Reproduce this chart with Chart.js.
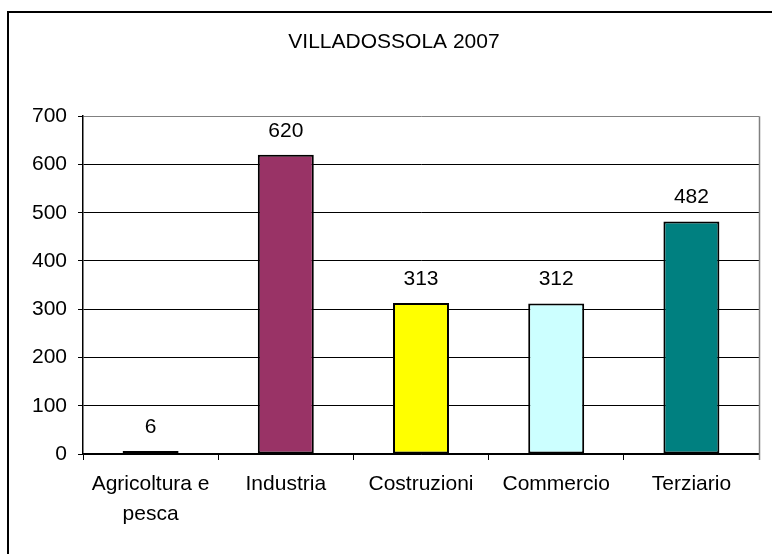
<!DOCTYPE html>
<html>
<head>
<meta charset="utf-8">
<script src="https://cdn.jsdelivr.net/npm/chart.js@4/dist/chart.umd.min.js"></script>
<style>
  html, body { margin: 0; padding: 0; background: #fff; }
  #wrap { position: relative; width: 772px; height: 554px; }
</style>
</head>
<body>
<div id="wrap"><canvas id="c" width="772" height="554"></canvas></div>
<script>
const chartTitle = 'VILLADOSSOLA 2007';
const categories = [['Agricoltura e', 'pesca'], 'Industria', 'Costruzioni', 'Commercio', 'Terziario'];
const values = [6, 620, 313, 312, 482];
const barColors = ['#000000', '#993366', '#FFFF00', '#CCFFFF', '#008080'];
const yTicks = [0, 100, 200, 300, 400, 500, 600, 700];

const FONT = "'Liberation Sans', Arial, sans-serif";

const framePlugin = {
  id: 'frame',
  beforeDraw(chart) {
    const ctx = chart.ctx;
    ctx.save();
    ctx.strokeStyle = '#000';
    ctx.lineWidth = 2;
    ctx.beginPath();
    ctx.moveTo(8, 560);
    ctx.lineTo(8, 12);
    ctx.lineTo(780, 12);
    ctx.stroke();
    ctx.restore();
  },
  afterDatasetsDraw(chart) {
    const ctx = chart.ctx;
    const a = chart.chartArea;
    ctx.save();
    ctx.strokeStyle = '#808080';
    ctx.lineWidth = 1.5;
    ctx.beginPath();
    ctx.moveTo(a.right + 0.5, a.top);
    ctx.lineTo(a.right + 0.5, a.bottom + 6);
    ctx.stroke();
    ctx.fillStyle = '#000';
    ctx.font = '21px ' + FONT;
    ctx.textAlign = 'center';
    ctx.textBaseline = 'alphabetic';
    const meta = chart.getDatasetMeta(0);
    meta.data.forEach((bar, i) => {
      ctx.fillText(String(values[i]), bar.x, bar.y - 18);
    });
    ctx.restore();
  }
};

new Chart(document.getElementById('c'), {
  type: 'bar',
  data: {
    labels: categories,
    datasets: [{
      data: values,
      backgroundColor: barColors,
      borderColor: '#000',
      borderWidth: 2,
      borderSkipped: false,
      barPercentage: 0.414,
      categoryPercentage: 1.0
    }]
  },
  options: {
    responsive: false,
    animation: false,
    devicePixelRatio: 1,
    layout: { padding: { left: 29, right: 13, top: 0, bottom: 0 } },
    plugins: {
      legend: { display: false },
      tooltip: { enabled: false },
      title: {
        display: true,
        text: chartTitle,
        color: '#000',
        font: { family: FONT, size: 21, weight: 'normal', lineHeight: 1.2 },
        padding: { top: 30, bottom: 61 }
      }
    },
    scales: {
      x: {
        offset: true,
        grid: {
          display: true,
          offset: true,
          drawOnChartArea: false,
          drawTicks: true,
          tickLength: 6,
          tickColor: '#000',
          tickWidth: 1
        },
        border: { display: true, color: '#000', width: 1.5 },
        ticks: {
          color: '#000',
          font: { family: FONT, size: 21, lineHeight: 1.45 },
          padding: 9,
          maxRotation: 0,
          autoSkip: false
        },
        afterFit(scale) { scale.height = 100; }
      },
      y: {
        min: 0,
        max: 700,
        afterBuildTicks(scale) { scale.ticks = yTicks.map(v => ({ value: v })); },
        grid: {
          color: (c) => (c.tick && c.tick.value === 700 ? '#808080' : '#000'),
          lineWidth: 1,
          drawTicks: true,
          tickLength: 5,
          tickColor: '#000'
        },
        border: { display: true, color: '#000', width: 1.5 },
        ticks: {
          color: '#000',
          font: { family: FONT, size: 21 },
          padding: 11
        },
        afterFit(scale) { scale.width = 54; }
      }
    }
  },
  plugins: [framePlugin]
});
</script>
</body>
</html>
